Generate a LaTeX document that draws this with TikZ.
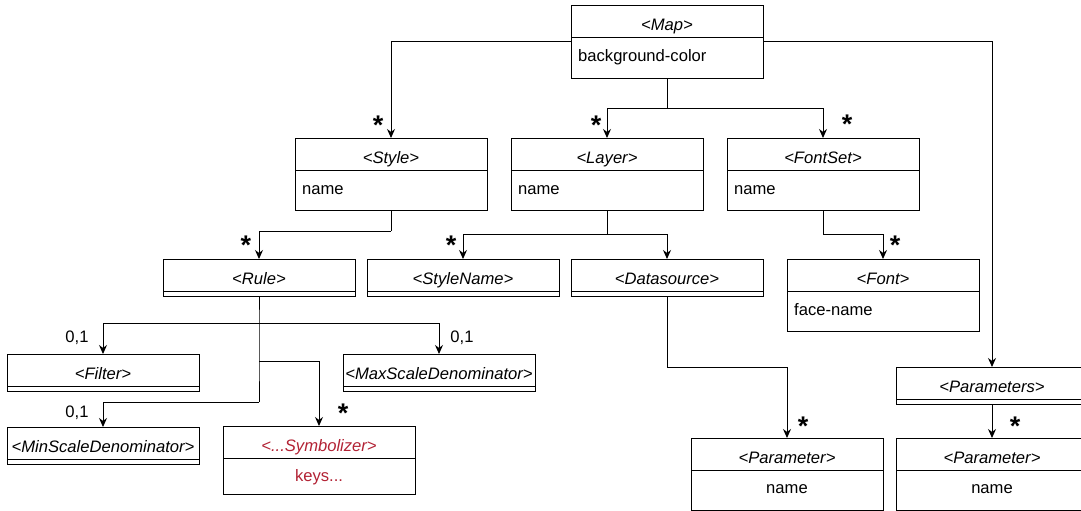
\documentclass[tikz,border=0pt]{standalone}
\usepackage{fontspec}
\setmainfont{Liberation Sans}
\usetikzlibrary{arrows.meta}
\definecolor{symred}{RGB}{178,34,52}
\newcommand\umldiv[1]{\draw[divider] ([yshift=-32pt]#1.north west) -- ([yshift=-32pt]#1.north east);}
\begin{document}
\begin{tikzpicture}[x=1pt,y=1pt,
 umlfull/.style={draw, line width=1pt, minimum width=192pt, minimum height=72pt, inner sep=0pt, outer sep=0pt, anchor=north west},
 umlempty/.style={umlfull, minimum height=37pt},
 divider/.style={line width=1pt},
 hdr/.style={anchor=base, inner sep=0pt, font=\fontsize{16.6}{19}\selectfont\itshape},
 attr/.style={anchor=base west, inner sep=0pt, font=\fontsize{16.6}{19}\selectfont},
 attrc/.style={anchor=base, inner sep=0pt, font=\fontsize{16.6}{19}\selectfont},
 conn/.style={line width=1pt, -{Stealth[length=9pt,width=8pt]}},
 plain/.style={line width=1pt},
 mult/.style={anchor=base, inner sep=0pt, font=\fontsize{16.6}{19}\selectfont},
 star/.style={anchor=base, inner sep=0pt, font=\fontsize{27}{30}\selectfont\bfseries},
]
\useasboundingbox (0,0) rectangle (1081,-511);
\clip (0,0) rectangle (1081,-511);

% boxes
\node[umlfull] (map) at (571,-6) {};
\node[umlfull] (style) at (295,-138) {};
\node[umlfull] (layer) at (511,-138) {};
\node[umlfull] (fontset) at (727,-138) {};
\node[umlempty] (rule) at (163,-259) {};
\node[umlempty] (stylename) at (367,-259) {};
\node[umlempty] (datasource) at (571,-259) {};
\node[umlfull] (font) at (787,-259) {};
\node[umlempty] (filter) at (7,-354) {};
\node[umlempty] (maxsd) at (343,-354) {};
\node[umlempty] (minsd) at (7,-427) {};
\node[umlfull, minimum height=68pt] (symb) at (223,-426) {};
\node[umlfull] (param1) at (691,-438) {};
\node[umlempty] (params) at (896,-367) {};
\node[umlfull] (param2) at (896,-438) {};

\foreach \b in {map,style,layer,fontset,rule,stylename,datasource,font,filter,maxsd,minsd,symb,param1,params,param2}{\umldiv{\b}}

% header texts
\node[hdr] (map-h) at ([yshift=-25pt]map.north) {<Map>};
\node[hdr] (style-h) at ([yshift=-25pt]style.north) {<Style>};
\node[hdr] (layer-h) at ([yshift=-25pt]layer.north) {<Layer>};
\node[hdr] (fontset-h) at ([yshift=-25pt]fontset.north) {<FontSet>};
\node[hdr] (rule-h) at ([yshift=-25pt]rule.north) {<Rule>};
\node[hdr] (stylename-h) at ([yshift=-25pt]stylename.north) {<StyleName>};
\node[hdr] (datasource-h) at ([yshift=-25pt]datasource.north) {<Datasource>};
\node[hdr] (font-h) at ([yshift=-25pt]font.north) {<Font>};
\node[hdr] (filter-h) at ([yshift=-25pt]filter.north) {<Filter>};
\node[hdr] (maxsd-h) at ([yshift=-25pt]maxsd.north) {<MaxScaleDenominator>};
\node[hdr] (minsd-h) at ([yshift=-25pt]minsd.north) {<MinScaleDenominator>};
\node[hdr, text=symred] (symb-h) at ([yshift=-25pt]symb.north) {<...Symbolizer>};
\node[hdr] (param1-h) at ([yshift=-25pt]param1.north) {<Parameter>};
\node[hdr] (params-h) at ([yshift=-25pt]params.north) {<Parameters>};
\node[hdr] (param2-h) at ([yshift=-25pt]param2.north) {<Parameter>};

% attribute texts
\node[attr] (map-a) at ([xshift=7pt,yshift=-56pt]map.north west) {background-color};
\node[attr] (style-a) at ([xshift=7pt,yshift=-56pt]style.north west) {name};
\node[attr] (layer-a) at ([xshift=7pt,yshift=-56pt]layer.north west) {name};
\node[attr] (fontset-a) at ([xshift=7pt,yshift=-56pt]fontset.north west) {name};
\node[attr] (font-a) at ([xshift=7pt,yshift=-56pt]font.north west) {face-name};
\node[attrc, text=symred] (symb-a) at ([yshift=-55pt]symb.north) {keys...};
\node[attrc] (param1-a) at ([yshift=-55pt]param1.north) {name};
\node[attrc] (param2-a) at ([yshift=-55pt]param2.north) {name};

% junctions
\coordinate (mapj) at (667,-108);
\coordinate (styj) at (391,-231);
\coordinate (layj) at (607,-234);
\coordinate (fsj) at (823,-234);
\coordinate (ruj1) at (259,-323);
\coordinate (ruj2) at (259,-361);
\coordinate (ruj3) at (259,-402);
\coordinate (dsj) at (667,-367);

% connectors
\draw[conn] (map.west) -| (style.north);
\draw[conn] (map.east) -| (params.north);
\draw[plain] (map.south) -- (mapj);
\draw[conn] (mapj) -| (layer.north);
\draw[conn] (mapj) -| (fontset.north);
\draw[plain] (style.south) -- (styj);
\draw[conn] (styj) -| (rule.north);
\draw[plain] (layer.south) -- (layj);
\draw[conn] (layj) -| (stylename.north);
\draw[conn] (layj) -| (datasource.north);
\draw[plain] (fontset.south) -- (fsj);
\draw[conn] (fsj) -| (font.north);
\draw[plain] (rule.south) -- (ruj1) -- (ruj2) -- (ruj3);
\draw[conn] (ruj1) -| (filter.north);
\draw[conn] (ruj1) -| (maxsd.north);
\draw[conn] (ruj2) -| (symb.north);
\draw[conn] (ruj3) -| (minsd.north);
\draw[plain] (datasource.south) -- (dsj);
\draw[conn] (dsj) -| (param1.north);
\draw[conn] (params.south) -- (param2.north);

% multiplicities
\node[star] (s1) at (378,-134) {*};
\node[star] (s2) at (596,-134) {*};
\node[star] (s3) at (847,-133) {*};
\node[star] (s4) at (246,-254) {*};
\node[star] (s5) at (451,-254) {*};
\node[star] (s6) at (895,-254) {*};
\node[star] (s7) at (343,-422) {*};
\node[star] (s8) at (803,-435) {*};
\node[star] (s9) at (1015,-435) {*};
\node[mult] (m1) at (77,-342) {0,1};
\node[mult] (m2) at (77,-417) {0,1};
\node[mult] (m3) at (462,-342) {0,1};
\end{tikzpicture}
\end{document}
